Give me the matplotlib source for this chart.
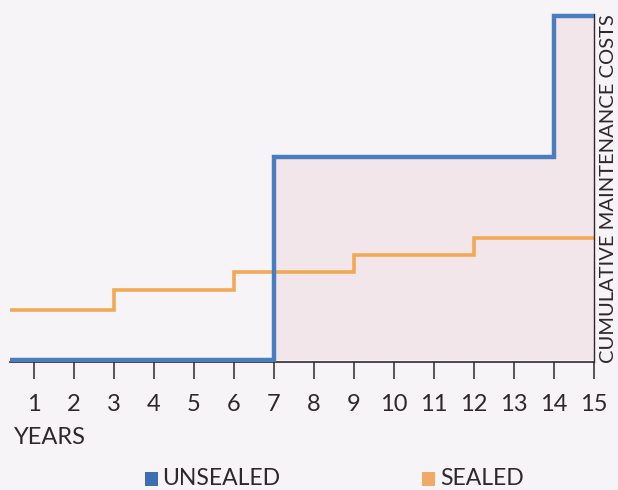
import matplotlib.pyplot as plt
from matplotlib.patches import Rectangle

# step data (cost in arbitrary units)
unsealed_years = [0, 7, 14, 15]
unsealed_cost = [0, 20.3, 34.4, 34.4]
sealed_years = [0, 3, 6, 9, 12, 15]
sealed_cost = [5.0, 7.0, 8.8, 10.5, 12.2, 12.2]
year_ticks = list(range(1, 16))

BLUE = '#4a7cc0'
ORANGE = '#f2a955'
BG = '#f6f4f6'
SHADE = '#f3e6ea'
INK = '#2e282c'

plt.rcParams['font.family'] = ['Lato', 'DejaVu Sans']

fig = plt.figure(figsize=(6.18, 4.9), dpi=100, facecolor=BG)
ax = fig.add_axes([10 / 618, 1 - 362 / 490, 584 / 618, 352 / 490])
ax.set_facecolor(BG)

# shaded area under the unsealed curve
ax.fill_between(unsealed_years, unsealed_cost, step='post', color=SHADE, lw=0, zorder=1)

ax.step(unsealed_years, unsealed_cost, where='post', color=BLUE, lw=3.2, zorder=3,
        solid_joinstyle='miter')
ax.step(sealed_years, sealed_cost, where='post', color=ORANGE, lw=2.6, zorder=2,
        solid_joinstyle='miter')

ax.set_xlim(0.4, 15)
ax.set_ylim(-0.2, 35.0)

for side in ['left', 'top']:
    ax.spines[side].set_visible(False)
ax.spines['bottom'].set_color(INK)
ax.spines['bottom'].set_linewidth(1.2)
ax.spines['right'].set_color(INK)
ax.spines['right'].set_linewidth(1.0)
ax.spines['right'].set_bounds(-0.2, 34.6)

ax.set_yticks([])
ax.set_xticks(year_ticks)
ax.set_xticklabels([str(t) for t in year_ticks], fontsize=17, color=INK)
ax.tick_params(axis='x', direction='out', length=12, width=1.1, color=INK, pad=11)

fig.text(14 / 618, 1 - 437 / 490, 'YEARS', fontsize=17, color=INK, va='center', ha='left')

fig.text(609 / 618, 1 - 189 / 490, 'CUMULATIVE MAINTENANCE COSTS', rotation=90,
         fontsize=14.5, color=INK, ha='center', va='center')

# legend
fig.patches.append(Rectangle((145 / 618, 1 - 486 / 490), 13 / 618, 14 / 490,
                             transform=fig.transFigure, color='#3f6db3', lw=0))
fig.text(162 / 618, 1 - 478 / 490, 'UNSEALED', fontsize=16.5, color=INK, va='center')
fig.patches.append(Rectangle((422 / 618, 1 - 486 / 490), 13 / 618, 14 / 490,
                             transform=fig.transFigure, color='#f0aa66', lw=0))
fig.text(440 / 618, 1 - 478 / 490, 'SEALED', fontsize=16.5, color=INK, va='center')

fig.savefig('out.png', dpi=100, facecolor=BG)
